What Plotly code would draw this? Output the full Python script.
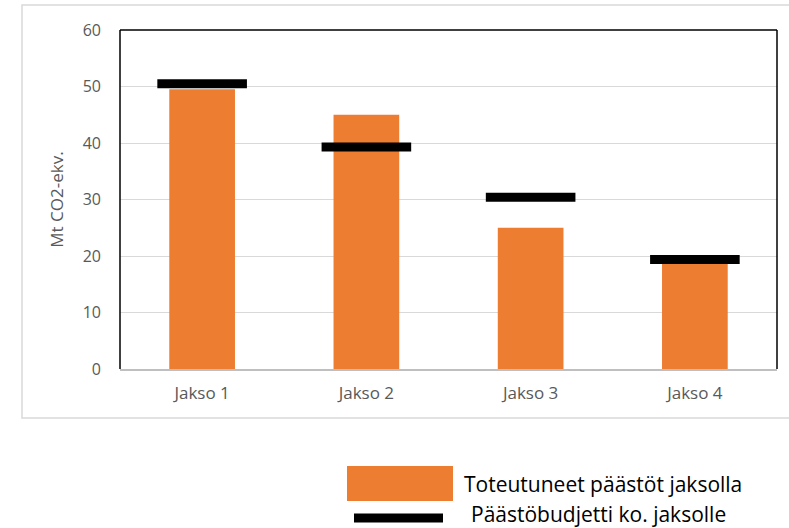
import plotly.graph_objects as go

categories = ["Jakso 1", "Jakso 2", "Jakso 3", "Jakso 4"]
actual = [49.5, 45, 25, 19]
budget = [50.5, 39.3, 30.4, 19.4]
y_ticks = [0, 10, 20, 30, 40, 50, 60]
legend_labels = ["Toteutuneet päästöt jaksolla", "Päästöbudjetti ko. jaksolle"]

ORANGE = "#ED7D31"
FONT = "Open Sans"

fig = go.Figure()
fig.add_trace(go.Bar(
    x=categories, y=actual, name=legend_labels[0],
    marker=dict(color=ORANGE, line=dict(width=0)), width=0.4,
    showlegend=False,
))
fig.add_trace(go.Scatter(
    x=categories, y=budget, name=legend_labels[1], mode="markers",
    marker=dict(symbol="line-ew", size=64, line=dict(color="black", width=9)),
    showlegend=False, cliponaxis=False,
))

W, H = 789, 528
L, R, T, B = 120, 12, 30, 159


def px_x(x):
    return (x - L) / (W - L - R)


def px_y(y):
    return (H - B - y) / (H - T - B)


shapes = [
    # outer chart frame
    dict(type="rect", xref="paper", yref="paper",
         x0=px_x(22), x1=px_x(W + 5), y0=px_y(418), y1=px_y(5),
         line=dict(color="#D9D9D9", width=1.5), layer="below"),
    # plot border left, top, right (black)
    dict(type="line", xref="paper", yref="paper", x0=0, x1=0, y0=0, y1=1,
         line=dict(color="black", width=1.5)),
    dict(type="line", xref="paper", yref="paper", x0=0, x1=1, y0=1, y1=1,
         line=dict(color="black", width=1.5)),
    dict(type="line", xref="paper", yref="paper", x0=1, x1=1, y0=0, y1=1,
         line=dict(color="black", width=1.5)),
    # custom legend
    dict(type="rect", xref="paper", yref="paper",
         x0=px_x(347), x1=px_x(453), y0=px_y(501), y1=px_y(466),
         fillcolor=ORANGE, line=dict(width=0)),
    dict(type="line", xref="paper", yref="paper",
         x0=px_x(354), x1=px_x(443), y0=px_y(518), y1=px_y(518),
         line=dict(color="black", width=9)),
]

annotations = [
    dict(text=legend_labels[0], xref="paper", yref="paper", x=px_x(463), y=px_y(484),
         xanchor="left", yanchor="middle", showarrow=False, borderpad=0,
         font=dict(family=FONT, size=21, color="black")),
    dict(text=legend_labels[1], xref="paper", yref="paper", x=px_x(470), y=px_y(514),
         xanchor="left", yanchor="middle", showarrow=False, borderpad=0,
         font=dict(family=FONT, size=21, color="black")),
]

fig.update_layout(
    width=W, height=H,
    margin=dict(l=L, r=R, t=T, b=B),
    paper_bgcolor="white", plot_bgcolor="white",
    font=dict(family=FONT, color="#595959"),
    barmode="overlay",
    shapes=shapes,
    annotations=annotations,
    showlegend=False,
)
fig.update_xaxes(
    range=[-0.5, 3.5],
    showline=True, linecolor="#BFBFBF", linewidth=1.5,
    showgrid=False, ticks="", tickfont=dict(size=17, color="#595959"),
    ticklabelstandoff=8,
)
fig.update_yaxes(
    range=[0, 60], tickvals=y_ticks, showgrid=True, gridcolor="#D9D9D9", gridwidth=1.2,
    zeroline=False, showline=False, ticks="", ticklabelstandoff=18,
    tickfont=dict(size=16, color="#595959"),
    title=dict(text="Mt CO2-ekv.", font=dict(size=17, color="#595959"), standoff=14),
)

fig.write_html(
    "out.html",
    config={"displayModeBar": False},
    post_script="document.body.style.margin='0';document.body.style.overflow='hidden';",
)
